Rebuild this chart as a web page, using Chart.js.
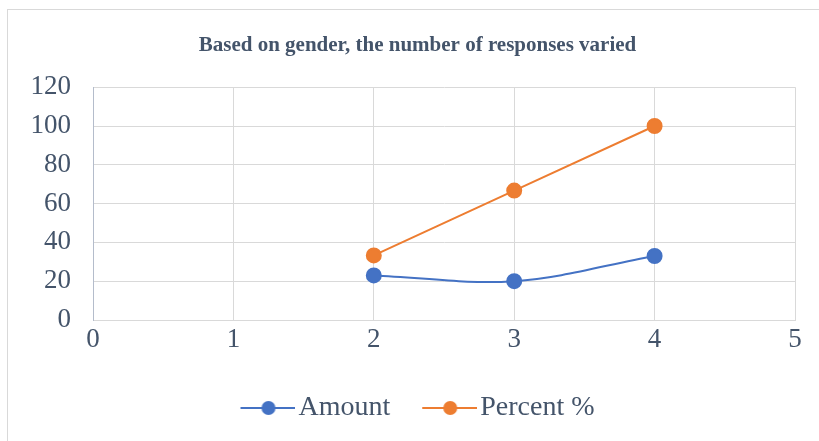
<!DOCTYPE html>
<html>
<head>
<meta charset="utf-8">
<script src="https://cdn.jsdelivr.net/npm/chart.js@4"></script>
<style>
  html, body { margin: 0; padding: 0; background: #fff; }
  #wrap { position: relative; width: 819px; height: 441px; overflow: hidden; }
  #frame { position: absolute; left: 7px; top: 9px; width: 840px; height: 460px; border: 1px solid #d9d9d9; box-sizing: border-box; }
  #c { position: absolute; left: 0; top: 0; }
</style>
</head>
<body>
<div id="wrap">
  <div id="frame"></div>
  <canvas id="c" width="819" height="441"></canvas>
</div>
<script>
// values
const xValues = [2, 3, 4];
const amountValues = [23, 20, 33];
const percentValues = [33.3, 66.7, 100];
const seriesNames = ['Amount', 'Percent %'];
const xMin = 0, xMax = 5, xStep = 1;
const yMin = 0, yMax = 120, yStep = 20;

const blue = '#4472c4';
const orange = '#ed7d31';
const textColor = '#44546a';
const serif = "'Liberation Serif', 'Times New Roman', serif";

// legend marker: short line with a dot, like Excel
// canvas is wider on the left so the line reaches up to the text
function legendMarker(color) {
    const cv = document.createElement('canvas');
    cv.width = 66; cv.height = 16;
    const g = cv.getContext('2d');
    g.strokeStyle = color; g.lineWidth = 2;
    g.beginPath(); g.moveTo(11, 8); g.lineTo(66, 8); g.stroke();
    g.fillStyle = color;
    g.beginPath(); g.arc(39, 8, 7, 0, Math.PI * 2); g.fill();
    return cv;
}
const markers = [legendMarker(blue), legendMarker(orange)];

const toPoints = ys => xValues.map((x, i) => ({ x: x, y: ys[i] }));

new Chart(document.getElementById('c').getContext('2d'), {
    type: 'scatter',
    data: {
        datasets: [
            { label: seriesNames[0], data: toPoints(amountValues), showLine: true, tension: 0.35,
              borderColor: blue, backgroundColor: blue, borderWidth: 2, pointRadius: 7, pointHoverRadius: 7 },
            { label: seriesNames[1], data: toPoints(percentValues), showLine: true, tension: 0,
              borderColor: orange, backgroundColor: orange, borderWidth: 2, pointRadius: 7, pointHoverRadius: 7 }
        ]
    },
    options: {
        responsive: false,
        animation: false,
        // negative right padding + empty right axis keeps title and legend centred on the frame
        layout: { padding: { left: 10, right: -6, top: 14, bottom: 9 } },
        plugins: {
            title: {
                display: true,
                text: 'Based on gender, the number of responses varied',
                color: textColor,
                font: { family: serif, size: 21, weight: 'bold' },
                padding: { top: 19, bottom: 29 }
            },
            legend: {
                position: 'bottom',
                labels: {
                    color: textColor,
                    font: { family: serif, size: 28 },
                    usePointStyle: true,
                    pointStyleWidth: 44,
                    boxHeight: 16,
                    padding: 32,
                    generateLabels: chart => chart.data.datasets.map((ds, i) => ({
                        text: ds.label, datasetIndex: i, pointStyle: markers[i],
                        fontColor: textColor, lineWidth: 0, hidden: false
                    }))
                }
            },
            tooltip: { enabled: false }
        },
        scales: {
            x: {
                type: 'linear', min: xMin, max: xMax,
                ticks: { stepSize: xStep, color: textColor, font: { family: serif, size: 27 }, padding: 4 },
                grid: { color: '#d9d9d9', drawTicks: false },
                border: { color: '#d9d9d9' },
                afterFit: s => { s.height = 42; }
            },
            y: {
                type: 'linear', min: yMin, max: yMax,
                ticks: { stepSize: yStep, color: textColor, font: { family: serif, size: 27 }, padding: 22 },
                grid: { color: '#d9d9d9', drawTicks: false },
                border: { color: '#b4bccb' },
                afterFit: s => { s.width = 83; }
            },
            yPad: {
                type: 'linear', position: 'right', min: yMin, max: yMax,
                ticks: { display: false },
                grid: { display: false, drawTicks: false },
                border: { display: false },
                afterFit: s => { s.width = 30; }
            }
        }
    }
});
</script>
</body>
</html>
